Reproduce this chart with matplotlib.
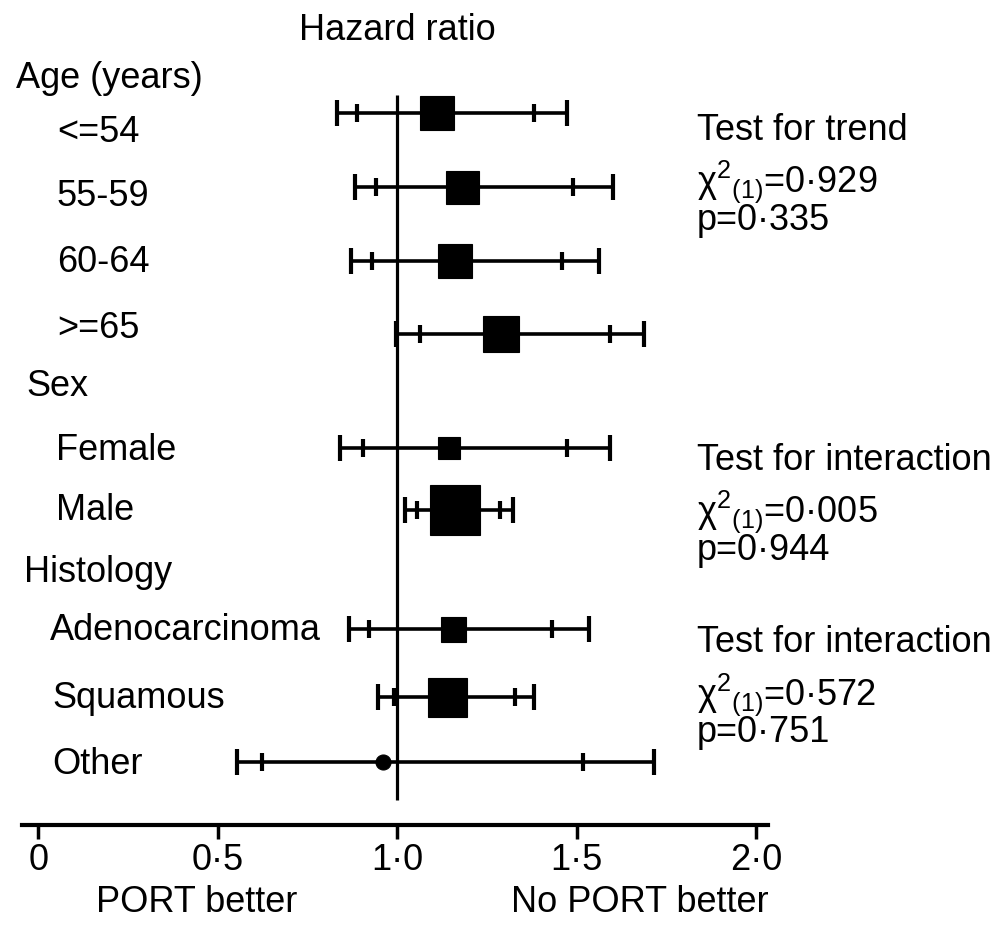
import numpy as np
import matplotlib
matplotlib.use('Agg')
import matplotlib.pyplot as plt

plt.rcParams['font.family'] = ['Liberation Sans', 'DejaVu Sans']
plt.rcParams['mathtext.fontset'] = 'custom'
plt.rcParams['mathtext.rm'] = 'Liberation Sans'
plt.rcParams['mathtext.it'] = 'Liberation Sans'

# data
labels = ['<=54', '55-59', '60-64', '>=65', 'Female', 'Male',
          'Adenocarcinoma', 'Squamous', 'Other']
hr = [1.11, 1.18, 1.16, 1.29, 1.145, 1.16, 1.155, 1.14, 0.96]
ci95_lo = [0.889, 0.942, 0.930, 1.064, 0.905, 1.056, 0.922, 0.990, 0.624]
ci95_hi = [1.382, 1.490, 1.460, 1.593, 1.473, 1.287, 1.432, 1.327, 1.517]
ci99_lo = [0.833, 0.883, 0.872, 0.998, 0.841, 1.022, 0.867, 0.946, 0.553]
ci99_hi = [1.473, 1.602, 1.563, 1.688, 1.593, 1.323, 1.534, 1.380, 1.716]
headers = ['Age (years)', 'Sex', 'Histology']
tests = [('Test for trend', '0·929', '0·335'),
         ('Test for interaction', '0·005', '0·944'),
         ('Test for interaction', '0·572', '0·751')]
xticks = [0, 0.5, 1.0, 1.5, 2.0]
xticklabels = ['0', '0·5', '1·0', '1·5', '2·0']

# layout (pixel rows from top)
row_y = [113, 187, 261, 334, 448, 510, 629, 697, 762]
label_y = [130, 195, 260, 327, 448, 508, 628, 697, 762]
label_x = [57, 57, 57, 57, 56, 56, 50, 52, 52]
header_y = [77, 385, 570]
header_x = [16, 26, 24]
test_y = [128, 458, 641]
box_px = [34, 33, 34, 36, 23, 50, 25, 39, 15]

W, H = 1007, 925
fig = plt.figure(figsize=(W / 100, H / 100), dpi=100)
ax = fig.add_axes([22 / W, 1 - 825 / H, 746 / W, 825 / H])
ax.set_xlim(-0.045, 2.033)
ax.set_ylim(825, 0)

lw = 2.6
ax.vlines(1.0, 95, 800, color='black', lw=2.3)
ax.hlines(row_y, ci99_lo, ci99_hi, color='black', lw=lw)
y = np.array(row_y)
ax.vlines(ci99_lo, y - 13, y + 13, color='black', lw=3)
ax.vlines(ci99_hi, y - 13, y + 13, color='black', lw=3)
ax.vlines(ci95_lo, y - 9, y + 9, color='black', lw=3)
ax.vlines(ci95_hi, y - 9, y + 9, color='black', lw=3)
for i in range(len(hr)):
    mk = 'o' if labels[i] == 'Other' else 's'
    ax.plot(hr[i], row_y[i], marker=mk, ms=box_px[i] * 0.72, color='black',
            mec='black', mew=0.8)

def px2x(px):
    return -0.045 + (px - 22) / 746 * (2.033 + 0.045)

fs = 26
for i, lab in enumerate(labels):
    ax.text(px2x(label_x[i]), label_y[i] + 2, lab, fontsize=fs, va='center', ha='left')
for i, h in enumerate(headers):
    ax.text(px2x(header_x[i]), header_y[i] + 2, h, fontsize=fs, va='center', ha='left')
for i, (t, chi, p) in enumerate(tests):
    x0 = px2x(697)
    ax.text(x0, test_y[i] + 2, t, fontsize=fs, va='center', ha='left')
    ax.text(x0, test_y[i] + 54, 'χ$^{2}{}_{(1)}$=' + chi, fontsize=fs, va='center', ha='left')
    ax.text(x0, test_y[i] + 92, 'p=' + p, fontsize=fs, va='center', ha='left')

ax.text(1.0, 30, 'Hazard ratio', fontsize=fs, ha='center', va='center')
fig.text(197 / W, 1 - 902 / H, 'PORT better', fontsize=fs, ha='center', va='center')
fig.text(640 / W, 1 - 902 / H, 'No PORT better', fontsize=fs, ha='center', va='center')

for s in ['top', 'right', 'left']:
    ax.spines[s].set_visible(False)
ax.spines['bottom'].set_linewidth(3)
ax.set_yticks([])
ax.set_xticks(xticks)
ax.set_xticklabels(xticklabels, fontsize=fs)
ax.tick_params(axis='x', length=10, width=2.5, pad=3)

fig.savefig('out.png', dpi=100)
